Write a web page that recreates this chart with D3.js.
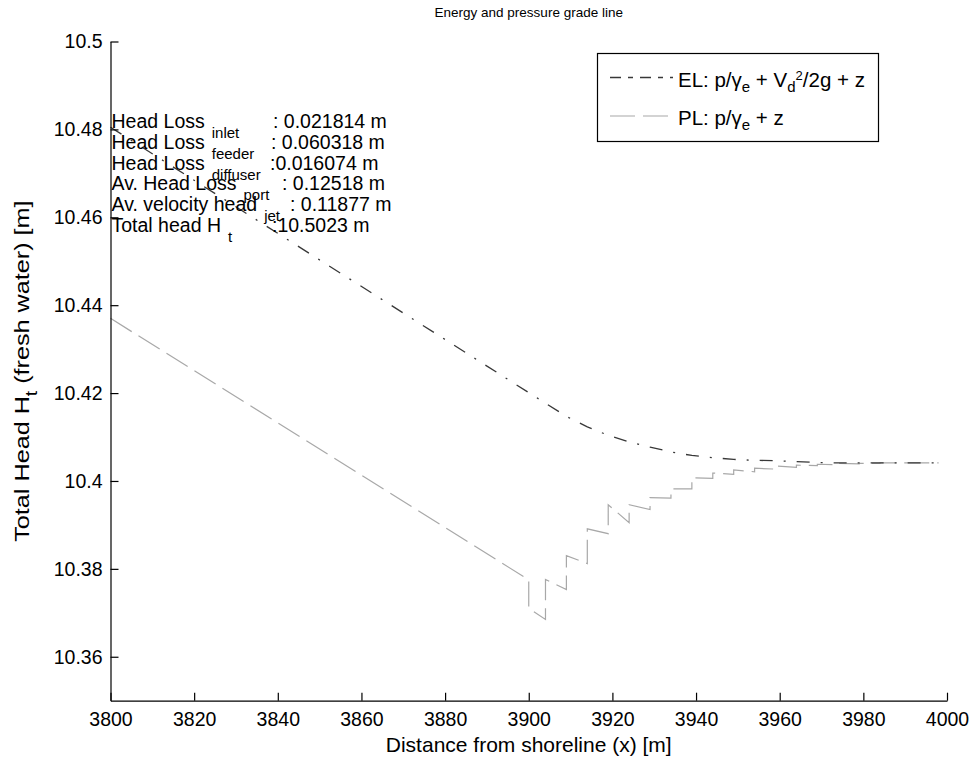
<!DOCTYPE html>
<html>
<head>
<meta charset="utf-8">
<script src="https://cdn.jsdelivr.net/npm/d3@7"></script>
<style>
  html, body { margin: 0; padding: 0; background: #fff; }
  svg { display: block; }
  text { font-family: "Liberation Sans", Arial, sans-serif; fill: #000; }
</style>
</head>
<body>
<div id="chart"></div>
<script>
// ---------------- data ----------------
const xDomain = [3800, 4000];
const yDomain = [10.35, 10.5];
const xTicks = [3800, 3820, 3840, 3860, 3880, 3900, 3920, 3940, 3960, 3980, 4000];
const xTickLabels = ["3800", "3820", "3840", "3860", "3880", "3900", "3920", "3940", "3960", "3980", "4000"];
const yTicks = [10.36, 10.38, 10.40, 10.42, 10.44, 10.46, 10.48, 10.50];
const yTickLabels = ["10.36", "10.38", "10.4", "10.42", "10.44", "10.46", "10.48", "10.5"];

// feeder start (x = 3800)
const startX = 3800;
const elStart = 10.4805;
const plStart = 10.4370;

// port / diffuser positions
const portX = [3900, 3904, 3909, 3914, 3919, 3924, 3929, 3934, 3939, 3944,
               3949, 3954, 3959, 3964, 3969, 3974, 3979, 3984, 3989, 3994];
// energy line at the ports
const elPort = [10.4201, 10.4177, 10.4147, 10.4123, 10.4104, 10.4089, 10.4077, 10.4066, 10.4058, 10.4053,
                10.4049, 10.4047, 10.4046, 10.4044, 10.4042, 10.4041, 10.4041, 10.4041, 10.4041, 10.4041];
// pressure line just before / just after each port
const plBefore = [10.3775, 10.3685, 10.3753, 10.3812, 10.3880, 10.3905, 10.3935, 10.3961, 10.3982, 10.4006,
                  10.4015, 10.4021, 10.4027, 10.4031, 10.4035, 10.4037, 10.4039, 10.4040, 10.4041, 10.4041];
const plAfter  = [10.3710, 10.3776, 10.3830, 10.3891, 10.3946, 10.3946, 10.3962, 10.3982, 10.4007, 10.4018,
                  10.4025, 10.4029, 10.4034, 10.4036, 10.4038, 10.4040, 10.4040, 10.4041, 10.4041, 10.4041];
// diffuser end
const endX = 3998;
const elEnd = 10.4041;
const plEnd = 10.4041;

const title = "Energy and pressure grade line";
const xLabel = "Distance from shoreline (x) [m]";
const infoLines = [
  { label: "Head Loss", sub: "inlet", value: ": 0.021814 m" },
  { label: "Head Loss", sub: "feeder", value: ": 0.060318 m" },
  { label: "Head Loss", sub: "diffuser", value: ":0.016074 m" },
  { label: "Av. Head Loss", sub: "port", value: ": 0.12518 m" },
  { label: "Av. velocity head", sub: "jet", value: ": 0.11877 m" },
  { label: "Total head H", sub: "t", value: ":10.5023 m" }
];

// ---------------- layout ----------------
const W = 970, H = 761;
const L = 110.5, R = 947, T = 41.5, B = 700.7;
const fs = 19.5;
const labelFs = 21;

const svg = d3.select("#chart").append("svg")
  .attr("width", W).attr("height", H)
  .attr("viewBox", `0 0 ${W} ${H}`);
svg.append("rect").attr("width", W).attr("height", H).attr("fill", "#fff");

const x = d3.scaleLinear().domain(xDomain).range([L, R]);
const y = d3.scaleLinear().domain(yDomain).range([B, T]);

// ---------------- lines ----------------
const elPts = [[startX, elStart]];
portX.forEach((px, i) => elPts.push([px, elPort[i]]));
elPts.push([endX, elEnd]);

const plPts = [[startX, plStart]];
portX.forEach((px, i) => { plPts.push([px, plBefore[i]]); plPts.push([px, plAfter[i]]); });
plPts.push([endX, plEnd]);

const line = d3.line().x(d => x(d[0])).y(d => y(d[1]));

svg.append("path").datum(plPts)
  .attr("d", line).attr("fill", "none")
  .attr("stroke", "#a8a8a8").attr("stroke-width", 1.2)
  .attr("stroke-dasharray", "25,8");

svg.append("path").datum(elPts)
  .attr("d", line).attr("fill", "none")
  .attr("stroke", "#383838").attr("stroke-width", 1.3)
  .attr("stroke-dasharray", "13,11,2,11");

// ---------------- axes ----------------
const xAxis = d3.axisBottom(x).tickValues(xTicks)
  .tickFormat((d, i) => xTickLabels[i]).tickSizeInner(-8).tickSizeOuter(0).tickPadding(11);
const yAxis = d3.axisLeft(y).tickValues(yTicks)
  .tickFormat((d, i) => yTickLabels[i]).tickSizeInner(-8).tickSizeOuter(0).tickPadding(8);

const gx = svg.append("g").attr("transform", `translate(0,${B})`).call(xAxis);
const gy = svg.append("g").attr("transform", `translate(${L},0)`).call(yAxis);
[gx, gy].forEach(g => {
  g.select(".domain").attr("stroke", "#000").attr("stroke-width", 1.2);
  g.selectAll(".tick line").attr("stroke", "#000").attr("stroke-width", 1.2);
  g.selectAll(".tick text").attr("font-size", fs).attr("font-family", '"Liberation Sans", Arial, sans-serif').attr("fill", "#000");
});

// ---------------- labels ----------------
svg.append("text").attr("x", (L + R) / 2).attr("y", 17)
  .attr("text-anchor", "middle").attr("font-size", 13.5).text(title);

svg.append("text").attr("x", (L + R) / 2).attr("y", 752)
  .attr("text-anchor", "middle").attr("font-size", labelFs).text(xLabel);

const yl = svg.append("text")
  .attr("transform", `translate(29,${(T + B) / 2}) rotate(-90) scale(1.2,1)`)
  .attr("text-anchor", "middle").attr("font-size", labelFs);
yl.append("tspan").text("Total Head H");
yl.append("tspan").attr("font-size", 16).attr("dy", 8).text("t");
yl.append("tspan").attr("dy", -8).text(" (fresh water) [m]");

// ---------------- info text ----------------
const infoX = 111.5, info0 = 128, infoStep = 20.8;
const valueX = [273, 271, 270, 282, 290, 272];
infoLines.forEach((d, i) => {
  const t = svg.append("text").attr("x", infoX).attr("y", info0 + i * infoStep).attr("font-size", fs);
  t.append("tspan").text(d.label);
  t.append("tspan").attr("font-size", 15).attr("dx", 7).attr("dy", 10).text(d.sub);
  t.append("tspan").attr("x", valueX[i]).attr("y", info0 + i * infoStep).text(d.value);
});

// ---------------- legend ----------------
const legFs = 20.5;
const lg = svg.append("g");
lg.append("rect").attr("x", 597.5).attr("y", 53.5).attr("width", 281).attr("height", 88)
  .attr("fill", "#fff").attr("stroke", "#000").attr("stroke-width", 1.2);
const legendItems = [
  { y: 77.5, stroke: "#383838", dash: "11,7,5,7", w: 1.3 },
  { y: 116, stroke: "#a8a8a8", dash: "25,8", w: 1.2 }
];
legendItems.forEach(d => {
  lg.append("line").attr("x1", 610).attr("x2", 673).attr("y1", d.y).attr("y2", d.y)
    .attr("stroke", d.stroke).attr("stroke-width", d.w).attr("stroke-dasharray", d.dash);
});
const t1 = lg.append("text").attr("x", 678).attr("y", 87).attr("font-size", legFs);
t1.append("tspan").text("EL: p/γ");
t1.append("tspan").attr("font-size", 15).attr("dy", 5).text("e");
t1.append("tspan").attr("dy", -5).text(" + V");
t1.append("tspan").attr("font-size", 15).attr("dy", 5).text("d");
t1.append("tspan").attr("font-size", 13).attr("dy", -12).text("2");
t1.append("tspan").attr("dy", 7).text("/2g + z");

const t2 = lg.append("text").attr("x", 678).attr("y", 125).attr("font-size", legFs);
t2.append("tspan").text("PL: p/γ");
t2.append("tspan").attr("font-size", 15).attr("dy", 5).text("e");
t2.append("tspan").attr("dy", -5).text(" + z");
</script>
</body>
</html>
